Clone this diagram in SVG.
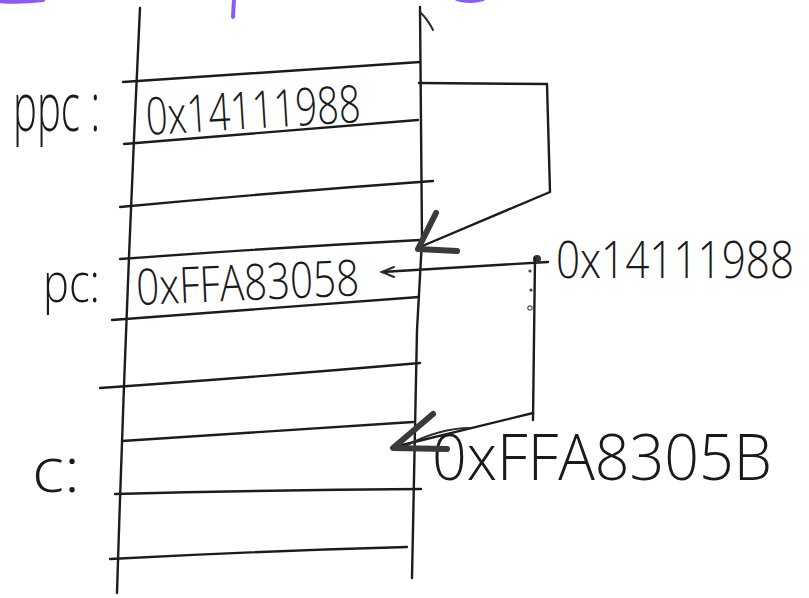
<svg xmlns="http://www.w3.org/2000/svg" width="809" height="598" viewBox="0 0 809 598">
<style>
.ln{fill:none;stroke:#1c1c1c;stroke-width:2.4;stroke-linecap:round;stroke-linejoin:round}
.thin{fill:none;stroke:#2a2a2a;stroke-width:2;stroke-linecap:round}
.ah{fill:none;stroke:#3a3a3a;stroke-width:6;stroke-linecap:round;stroke-linejoin:round}
.pur{fill:none;stroke:#8a5cf2;stroke-width:4;stroke-linecap:round}
.hw{font-family:"Open Sans","Liberation Sans",sans-serif;font-weight:300;fill:#1a1a1a}
</style>
<rect width="809" height="598" fill="#ffffff"/>
<g id="scribbles">
<path class="pur" d="M-2,1 Q20,3 43,0"/>
<path class="pur" d="M234,-1 L233,17"/>
<path class="pur" d="M457,-1 Q470,3 483,-1"/>
</g>
<g id="stack">
<path class="ln" d="M140,8 Q126,300 117,593"/>
<path class="ln" d="M420,7 L422,240 L417,330 L412,578"/>
<path class="thin" d="M421,13 Q428,20 433,30"/>
<path class="ln" d="M123,82 Q270,72 420,62"/>
<path class="ln" d="M124,144 Q270,132 418,120"/>
<path class="ln" d="M120,207 Q280,192 433,181"/>
<path class="ln" d="M120,259 Q270,248 420,240"/>
<path class="ln" d="M112,320 Q270,308 419,297"/>
<path class="ln" d="M100,388 Q270,376 420,363"/>
<path class="ln" d="M122,441 Q270,431 413,422"/>
<path class="ln" d="M115,494 Q270,490 421,489"/>
<path class="ln" d="M110,559 Q260,551 407,547"/>
</g>
<g id="ppc-label"><text class="hw" x="13" y="131" font-size="68" textLength="87" lengthAdjust="spacingAndGlyphs">ppc :</text></g>
<g id="ppc-cell"><text class="hw" x="147" y="135" font-size="52" textLength="215" lengthAdjust="spacingAndGlyphs" transform="rotate(-3.5 147 135)">0x14111988</text></g>
<g id="pc-label"><text class="hw" x="43" y="302" font-size="55" textLength="57" lengthAdjust="spacingAndGlyphs">pc:</text></g>
<g id="pc-cell"><text class="hw" x="137" y="305" font-size="50" textLength="223" lengthAdjust="spacingAndGlyphs" transform="rotate(-2.5 137 305)">0xFFA83058</text></g>
<g id="c-label"><text class="hw" x="32" y="492" font-size="62" textLength="48" lengthAdjust="spacingAndGlyphs">c:</text></g>
<g id="addr-pc"><text class="hw" x="0" y="0" font-size="42" textLength="238" lengthAdjust="spacingAndGlyphs" transform="translate(556,278) scale(1,1.22)">0x14111988</text></g>
<g id="addr-c"><text class="hw" x="432" y="480" font-size="64" textLength="340" lengthAdjust="spacingAndGlyphs">0xFFA8305B</text></g>
<g id="connectors">
<path class="ln" d="M419,83 L547,84 L550,192 L420,247"/>
<path class="ah" d="M436,213 L418,249 L457,251"/>
<path class="ln" d="M548,262 L382,272"/>
<path class="thin" d="M394,267 L382,272 L394,277"/>
<circle cx="537" cy="259" r="4" fill="#333"/>
<path class="ln" d="M535,258 L533,420"/>
<path class="ln" d="M533,413 L394,447"/>
<path class="thin" d="M405,446 Q440,428 470,428"/>
<path class="ah" d="M433,414 L393,448 L447,449"/>
<circle cx="530" cy="271" r="1.6" fill="#444"/>
<circle cx="531" cy="290" r="1.6" fill="#444"/>
<circle cx="530" cy="308" r="2.2" fill="none" stroke="#555" stroke-width="1.2"/>
</g>
</svg>
